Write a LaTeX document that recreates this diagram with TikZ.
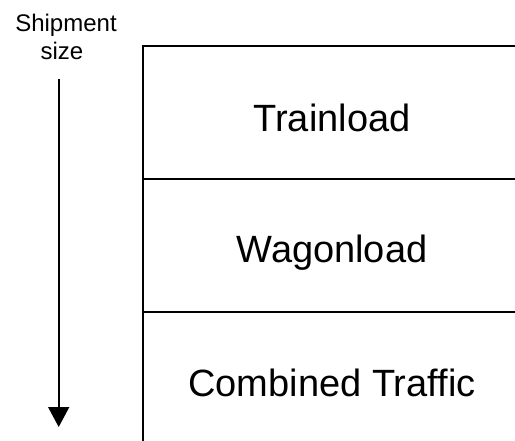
\documentclass[tikz,border=0pt]{standalone}
\usepackage{fontspec}
\setmainfont{Liberation Sans}
\usetikzlibrary{arrows.meta}
\begin{document}
\begin{tikzpicture}[x=1pt,y=-1pt,
  rule/.style={line width=1.6pt},
  big/.style={font=\fontsize{38}{44}\selectfont, anchor=base, inner sep=0pt},
  small/.style={font=\fontsize{24}{28}\selectfont, anchor=base, inner sep=0pt}]
\useasboundingbox (0,0) rectangle (515,441);
% frame
\coordinate (tl) at (143,46);
\coordinate (tr) at (515,46);
\coordinate (bl) at (143,441);
\coordinate (m1l) at (143,179);
\coordinate (m1r) at (515,179);
\coordinate (m2l) at (143,312);
\coordinate (m2r) at (515,312);
\draw[rule] (bl) -- (tl) -- (tr);
\draw[rule] (m1l) -- (m1r);
\draw[rule] (m2l) -- (m2r);
% labels
\node[big] (train) at (332,131.5) {Trainload};
\node[big] (wagon) at (332,262.5) {Wagonload};
\node[big] (comb) at (332,396.5) {Combined Traffic};
\node[small] (ship) at (66,31.5) {Shipment};
\node[small] (size) at (62,60) {size};
% arrow
\coordinate (a1) at (58.7,79);
\coordinate (a2) at (58.7,427);
\draw[line width=1.6pt, -{Triangle[width=21pt,length=20pt]}] (a1) -- (a2);
\end{tikzpicture}
\end{document}
